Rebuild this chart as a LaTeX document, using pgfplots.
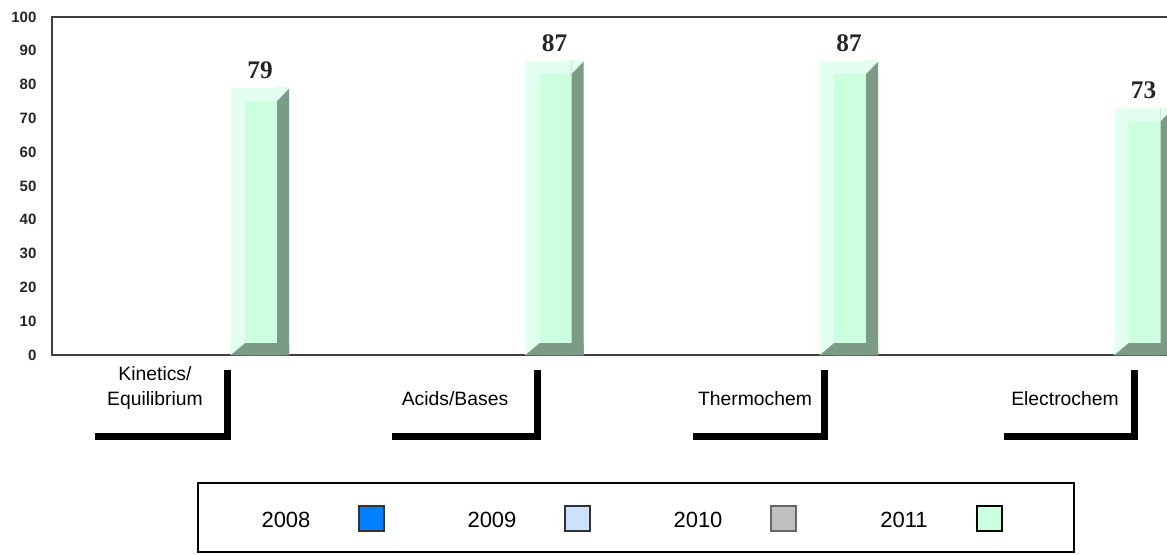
\documentclass[border=0pt]{standalone}
\usepackage{pgfplots}
\pgfplotsset{compat=1.18}
\usepackage{pgfplotstable}
\usepackage{fontspec}
\setmainfont{Liberation Sans}
\newfontfamily\serif{Liberation Serif}
\definecolor{barL}{HTML}{E2FFEF}
\definecolor{barM}{HTML}{CCFFE0}
\definecolor{barD}{HTML}{7B9B87}
\definecolor{y08}{HTML}{0080FF}
\definecolor{y09}{HTML}{CCE0FF}
\definecolor{y10}{HTML}{C0C0C0}
\definecolor{y11}{HTML}{CCFFE0}
\definecolor{axisgray}{HTML}{404040}
% bevel corners of the 3D bars (offsets in pt, 1px = 0.75pt)
\pgfdeclareplotmark{bevtop}{%
  \pgfpathmoveto{\pgfqpoint{12.75pt}{0.2pt}}%
  \pgfpathlineto{\pgfqpoint{22pt}{0.2pt}}%
  \pgfpathlineto{\pgfqpoint{22pt}{-0.2pt}}%
  \pgfpathlineto{\pgfqpoint{12.75pt}{-9.75pt}}%
  \pgfpathclose\pgfusepathqfill}
\pgfdeclareplotmark{bevbot}{%
  \pgfpathmoveto{\pgfqpoint{-22pt}{0pt}}%
  \pgfpathlineto{\pgfqpoint{-22pt}{9pt}}%
  \pgfpathlineto{\pgfqpoint{-11.25pt}{9pt}}%
  \pgfpathclose\pgfusepathqfill}

\pgfplotstableread{
x v
0 79
1 87
2 87
3 73
}\scores

\begin{document}
\begin{tikzpicture}
\begin{axis}[
  at={(0,0)}, anchor=south west,
  scale only axis, width=838.5pt, height=253.5pt,
  xmin=-0.7063, xmax=3.0900, ymin=0, ymax=100,
  ytick={0,10,...,100}, xtick=\empty,
  axis line style={draw=axisgray, line width=1.1pt},
  major tick length=0pt,
  /pgf/number format/assume math mode=true,
  yticklabel style={font=\fontsize{11.25}{13}\selectfont\bfseries, text=black!85, inner sep=0pt, xshift=-11.5pt},
]
% outer light face
\addplot[ybar, bar width=0.19695, fill=barL, draw=none] table[x=x, y=v]{\scores};
% inner front face
\addplot[ybar, bar width=0.10866, bar shift=0.0034, fill=barM, draw=none] table[x=x, y expr=\thisrow{v}-3.85]{\scores};
% dark right side
\addplot[ybar, bar width=0.04075, bar shift=0.0781, fill=barD, draw=none] table[x=x, y=v]{\scores};
% dark bottom
\addplot[ybar, bar width=0.19695, fill=barD, draw=none] table[x=x, y expr=3.55]{\scores};
% bevel corners
\addplot[only marks, mark=bevtop, color=barL, fill=barL] table[x=x, y=v]{\scores};
\addplot[only marks, mark=bevbot, color=barL, fill=barL] table[x=x, y expr=0]{\scores};
% value labels
\addplot[draw=none, mark=none, point meta=y, nodes near coords,
  nodes near coords align={vertical},
  nodes near coords style={font=\serif\bfseries\fontsize{19}{22}\selectfont, text=black!85, anchor=south, inner sep=0pt, yshift=6.75pt}]
  table[x=x, y=v]{\scores};
\end{axis}
\begin{scope}[x=0.75pt, y=-0.75pt, shift={(-52,-355)}]
  % category brackets
  \fill (224,370) rectangle (231,440);
  \fill (95,433) rectangle (231,440);
  \fill (534,370) rectangle (541,440);
  \fill (392,433) rectangle (541,440);
  \fill (821,370) rectangle (828,440);
  \fill (693,433) rectangle (828,440);
  \fill (1131,370) rectangle (1138,440);
  \fill (1004,433) rectangle (1138,440);
  % category labels
  \begin{scope}[every node/.style={font=\fontsize{14.5}{17}\selectfont, anchor=base, inner sep=0pt}]
    \node at (155,380.7) {Kinetics/};
    \node at (155,405.7) {Equilibrium};
    \node at (455,405.7) {Acids/Bases};
    \node at (755,405.7) {Thermochem};
    \node at (1065,405.7) {Electrochem};
  \end{scope}
  % legend
  \draw[line width=1.1pt] (198,483) rectangle (1074,552);
  \begin{scope}[every node/.style={font=\fontsize{16.5}{20}\selectfont, anchor=base, inner sep=0pt}]
    \node at (286,527) {2008};
    \node at (492,527) {2009};
    \node at (698,527) {2010};
    \node at (904,527) {2011};
  \end{scope}
  \filldraw[fill=y08, draw=black!80, line width=0.8pt] (359,506) rectangle (384,531);
  \filldraw[fill=y09, draw=black!80, line width=0.8pt] (565,506) rectangle (590,531);
  \filldraw[fill=y10, draw=black!60, line width=0.8pt] (771,506) rectangle (796,531);
  \filldraw[fill=y11, draw=black, line width=0.8pt] (977,506) rectangle (1002,531);
  \pgfresetboundingbox
  \path[use as bounding box] (0,0) rectangle (1167,554);
\end{scope}
\end{tikzpicture}
\end{document}
